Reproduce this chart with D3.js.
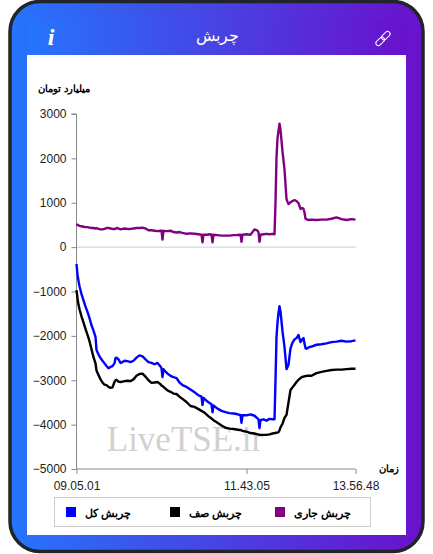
<!DOCTYPE html>
<html>
<head>
<meta charset="utf-8">
<script src="https://cdn.jsdelivr.net/npm/d3@7"></script>
<style>
    html, body { margin: 0; padding: 0; background: #fff; }
    svg { display: block; }
    text { font-family: "Liberation Sans", Arial, sans-serif; }
    .fa { font-family: "Liberation Sans", Arial, sans-serif; }
</style>
</head>
<body>
<div id="graf"></div>
<script>
// position of each reading on the category axis
const samples = [
    0, 1, 2, 3, 5, 7, 9, 11, 13, 15,
    17, 19, 20, 22, 24, 26, 28, 30, 32, 34,
    36, 38, 39, 40, 42, 44, 46, 48, 51, 54,
    57, 60, 63, 66, 69, 72, 75, 78, 81, 84,
    85, 86, 87, 88, 91, 94, 97, 100, 103, 106,
    110, 114, 118, 122, 125, 126, 127, 128, 131, 133,
    135, 136, 137, 141, 145, 149, 153, 157, 160, 163,
    164, 165, 166, 170, 174, 178, 181, 182, 183, 184,
    187, 190, 193, 196, 198, 199, 200, 201, 202, 203,
    204, 206, 208, 210, 212, 214, 216, 218, 220, 222,
    224, 226, 227, 228, 229, 230, 232, 235, 240, 245,
    250, 255, 260, 265, 270, 275, 279
];
const jari = [
    520, 500, 490, 480, 470, 460, 450, 450, 440, 430,
    430, 420, 430, 410, 400, 400, 410, 430, 430, 420,
    410, 410, 410, 430, 420, 400, 410, 420, 410, 410,
    420, 430, 430, 440, 420, 380, 380, 370, 360, 370,
    370, 170, 370, 360, 360, 370, 340, 330, 340, 320,
    300, 310, 300, 290, 280, 110, 280, 280, 280, 290,
    280, 110, 280, 270, 260, 260, 260, 270, 270, 280,
    280, 120, 280, 290, 280, 400, 370, 330, 120, 280,
    290, 300, 290, 300, 290, 1000, 2030, 2450, 2620, 2780,
    2650, 2150, 1750, 1080, 970, 1010, 1040, 1060, 1040, 990,
    860, 880, 860, 780, 640, 630, 610, 620, 610, 620,
    620, 640, 670, 630, 610, 630, 620
];
const saf = [
    -970, -1150, -1300, -1400, -1560, -1700, -1840, -1980, -2120, -2300,
    -2480, -2620, -2780, -2880, -2980, -3050, -3100, -3110, -3150, -3170,
    -3160, -3040, -3000, -2990, -3030, -3040, -3030, -3020, -3010, -3020,
    -2980, -2900, -2860, -2850, -2920, -3000, -3060, -3050, -3040, -3090,
    -3120, -3130, -3150, -3170, -3230, -3260, -3300, -3310, -3370, -3420,
    -3490, -3580, -3600, -3650, -3690, -3700, -3720, -3730, -3790, -3830,
    -3860, -3880, -3900, -3960, -4020, -4070, -4090, -4100, -4110, -4120,
    -4120, -4130, -4140, -4160, -4190, -4200, -4220, -4220, -4230, -4230,
    -4230, -4230, -4220, -4200, -4190, -4190, -4180, -4180, -4170, -4130,
    -4060, -3980, -3850, -3780, -3500, -3220, -3160, -3100, -3040, -2990,
    -2950, -2920, -2920, -2910, -2910, -2900, -2900, -2900, -2840, -2810,
    -2790, -2770, -2760, -2760, -2750, -2740, -2740
];
const kol = [
    -380, -620, -760, -880, -1060, -1200, -1340, -1460, -1600, -1760,
    -1880, -2020, -2320, -2420, -2500, -2560, -2620, -2680, -2730, -2700,
    -2680, -2620, -2500, -2490, -2530, -2610, -2590, -2560, -2570, -2590,
    -2560, -2490, -2440, -2460, -2530, -2590, -2610, -2640, -2610, -2690,
    -2730, -2930, -2750, -2780, -2850, -2900, -2930, -2950, -3050, -3110,
    -3150, -3210, -3270, -3340, -3370, -3560, -3400, -3420, -3480, -3510,
    -3540, -3720, -3570, -3640, -3690, -3720, -3740, -3750, -3760, -3780,
    -3780, -3960, -3790, -3790, -3770, -3800, -3860, -3880, -4080, -3900,
    -3880, -3910, -3870, -3880, -3880, -3000, -2030, -1700, -1480, -1330,
    -1450, -1900, -2250, -2750, -2650, -2280, -2150, -2080, -2050, -1980,
    -2140, -2070, -2050, -2170, -2280, -2290, -2260, -2240, -2200, -2190,
    -2170, -2140, -2130, -2110, -2130, -2120, -2100
];
const yTicks = [3000, 2000, 1000, 0, -1000, -2000, -3000, -4000, -5000];
const xTickPos = [0, 170, 279];
const xTickLabels = ["09.05.01", "11.43.05", "13.56.48"];
const seriesNames = ["چربش جاری", "چربش صف", "چربش کل"];
const seriesColors = ["#800080", "#000000", "#0000ff"];
const seriesValues = [jari, saf, kol];

const anchoTotal = 433;
const altoTotal = 554;
const margins = { top: 114, left: 76.5, right: 77.5, bottom: 85 };

const svg = d3.select("#graf").append("svg")
    .attr("width", anchoTotal)
    .attr("height", altoTotal);

// Marco
const defs = svg.append("defs");
const grad = defs.append("linearGradient").attr("id", "fondo");
grad.append("stop").attr("offset", "0%").attr("stop-color", "#2575fc");
grad.append("stop").attr("offset", "100%").attr("stop-color", "#6a11cb");

svg.append("rect")
    .attr("x", 10).attr("y", 1.5)
    .attr("width", 413).attr("height", 550)
    .attr("rx", 30)
    .attr("fill", "url(#fondo)")
    .attr("stroke", "#212529")
    .attr("stroke-width", 3.5);
svg.append("rect")
    .attr("x", 27).attr("y", 19)
    .attr("width", 379).attr("height", 36)
    .attr("fill", "url(#fondo)");
svg.append("rect")
    .attr("x", 27).attr("y", 55)
    .attr("width", 379).attr("height", 480)
    .attr("fill", "#fff");

// Cabecera
svg.append("text")
    .attr("class", "fa")
    .attr("x", 217).attr("y", 41)
    .attr("text-anchor", "middle")
    .attr("font-size", 16)
    .attr("fill", "#fff")
    .text("چربش");
svg.append("text")
    .attr("x", 51).attr("y", 45)
    .attr("text-anchor", "middle")
    .attr("font-size", 24)
    .attr("font-weight", "bold")
    .attr("font-style", "italic")
    .style("font-family", "'Liberation Serif', serif")
    .attr("fill", "#fff")
    .text("i");
const link = svg.append("g")
    .attr("transform", "translate(383,38.5) rotate(-45)")
    .attr("fill", "none")
    .attr("stroke", "#fff")
    .attr("stroke-width", 1);
link.append("rect").attr("x", -9).attr("y", -2.5).attr("width", 10).attr("height", 5).attr("rx", 2.5);
link.append("rect").attr("x", -1).attr("y", -2.5).attr("width", 10).attr("height", 5).attr("rx", 2.5);

// Escaladores
const x = d3.scaleLinear().domain([0, 279]).range([margins.left, anchoTotal - margins.right]);
const y = d3.scaleLinear().domain([-5000, 3000]).range([altoTotal - margins.bottom, margins.top]);

// Marca de agua
svg.append("text")
    .attr("x", 185).attr("y", 451)
    .attr("text-anchor", "middle")
    .attr("font-size", 35)
    .attr("fill", "#d3d0d0")
    .style("font-family", "'Liberation Serif', serif")
    .text("LiveTSE.ir");

// Linea de cero
svg.append("line")
    .attr("x1", x(0)).attr("x2", x(279))
    .attr("y1", y(0)).attr("y2", y(0))
    .attr("stroke", "#ccc");

// Ejes
const yAxis = d3.axisLeft(y).tickValues(yTicks).tickFormat(d3.format("d")).tickSize(5).tickPadding(5);
const xAxis = d3.axisBottom(x).tickValues(xTickPos)
    .tickFormat((d, i) => xTickLabels[i]).tickSize(5).tickPadding(7);

const yAxisGroup = svg.append("g").attr("transform", `translate(${margins.left},0)`).call(yAxis);
const xAxisGroup = svg.append("g").attr("transform", `translate(0,${y(-5000)})`).call(xAxis);
[yAxisGroup, xAxisGroup].forEach((g) => {
    g.selectAll("path, line").attr("stroke", "#888");
    g.selectAll("text").attr("font-size", 12).attr("fill", "#222")
        .style("font-family", "'Liberation Sans', sans-serif");
});
// sin el remate de d3 en los extremos del eje
yAxisGroup.select("path").attr("d", `M0,${y(3000)}H-5M0,${y(3000)}V${y(-5000)}`);
xAxisGroup.select("path").attr("d", `M${x(0)},0H${x(279)}`);

// Lineas
const linea = (values) => d3.line()
    .x((d) => x(d))
    .y((d, i) => y(values[i]));

seriesValues.forEach((values, i) => {
    svg.append("path")
        .datum(samples)
        .attr("fill", "none")
        .attr("stroke", seriesColors[i])
        .attr("stroke-width", 2.4)
        .attr("stroke-linejoin", "round")
        .attr("d", linea(values));
});

// Titulos de ejes
svg.append("text").attr("class", "fa")
    .attr("x", 90).attr("y", 92)
    .attr("text-anchor", "end")
    .attr("font-size", 10).attr("font-weight", "bold")
    .text("میلیارد تومان");
svg.append("text").attr("class", "fa")
    .attr("x", 399).attr("y", 472)
    .attr("text-anchor", "end")
    .attr("font-size", 10).attr("font-weight", "bold")
    .text("زمان");

// Leyenda
svg.append("rect")
    .attr("x", 54.5).attr("y", 497.5)
    .attr("width", 316).attr("height", 29)
    .attr("fill", "#fff")
    .attr("stroke", "#ccc");
const swatchX = d3.scaleOrdinal().domain(seriesNames).range([275, 170, 66]);
const textEnd = d3.scaleOrdinal().domain(seriesNames).range([351, 242, 131]);
const leyenda = svg.append("g").selectAll("g").data(seriesNames).join("g");
leyenda.append("rect")
    .attr("x", (d) => swatchX(d)).attr("y", 507)
    .attr("width", 10).attr("height", 10)
    .attr("fill", (d, i) => seriesColors[i]);
leyenda.append("text").attr("class", "fa")
    .attr("x", (d) => textEnd(d)).attr("y", 517)
    .attr("text-anchor", "end")
    .attr("font-size", 11).attr("font-weight", "bold")
    .text((d) => d);
</script>
</body>
</html>
